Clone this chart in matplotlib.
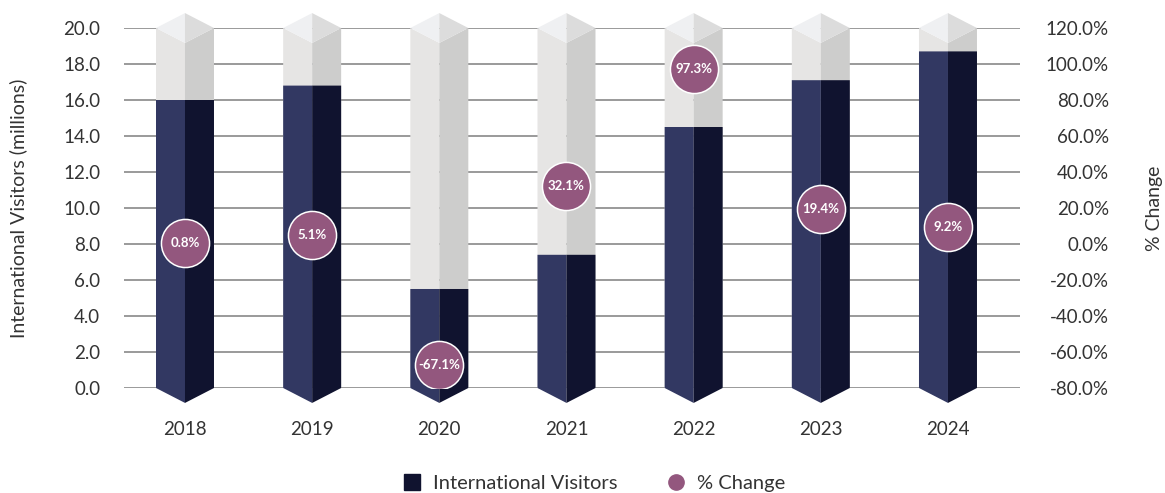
import matplotlib
matplotlib.use("Agg")
import matplotlib.pyplot as plt
from matplotlib.lines import Line2D

years = ["2018", "2019", "2020", "2021", "2022", "2023", "2024"]
visitors = [16.0, 16.8, 5.5, 7.4, 14.5, 17.1, 18.7]
pct_change = [0.8, 5.1, -67.1, 32.1, 97.3, 19.4, 9.2]
left_ticks = [0, 2, 4, 6, 8, 10, 12, 14, 16, 18, 20]
right_ticks = [-80, -60, -40, -20, 0, 20, 40, 60, 80, 100, 120]

plt.rcParams['font.family'] = ['Lato', 'DejaVu Sans']
TXT = '#333333'
NAVY_L, NAVY_R = '#323862', '#10132f'
GRAY_L, GRAY_R = '#e6e5e4', '#cdcdcc'
TOP_L, TOP_R = '#eff0f2', '#dcdcdc'
PURPLE = '#93577e'

fig = plt.figure(figsize=(11.65, 4.93), dpi=100)
ax = fig.add_axes([0.1064, 0.2130, 0.7691, 0.7302])
ax.set_xlim(-0.48, 6.566)
ax.set_ylim(0, 20)
ymax = 20
w = 0.228   # half width in x units
d = 0.83    # point depth in y units

for yv in left_ticks:
    ax.axhline(yv, color='#9a9a9a', lw=1.4, zorder=0)

for i, v in enumerate(visitors):
    x = i
    ax.fill([x - w, x, x, x - w], [ymax, ymax - d, 0, 0], color=GRAY_L, zorder=1, clip_on=False, lw=0)
    ax.fill([x, x + w, x + w, x], [ymax - d, ymax, 0, 0], color=GRAY_R, zorder=1, clip_on=False, lw=0)
    ax.fill([x - w, x, x], [ymax, ymax + d, ymax - d], color=TOP_L, zorder=1, clip_on=False, lw=0)
    ax.fill([x, x + w, x], [ymax + d, ymax, ymax - d], color=TOP_R, zorder=1, clip_on=False, lw=0)
    ax.fill([x - w, x, x, x - w], [v, v, -d, 0], color=NAVY_L, zorder=2, clip_on=False, lw=0)
    ax.fill([x, x + w, x + w, x], [v, v, 0, -d], color=NAVY_R, zorder=2, clip_on=False, lw=0)

ax.set_yticks(left_ticks)
ax.set_yticklabels([f"{t:.1f}" for t in left_ticks], color=TXT, fontsize=13.5)
ax.set_xticks(range(len(years)))
ax.set_xticklabels(years, color=TXT, fontsize=13.5)
ax.tick_params(axis='y', length=0, pad=17)
ax.tick_params(axis='x', length=0, pad=24)
ax.set_ylabel("International Visitors (millions)", color=TXT, fontsize=14, labelpad=26)
for s in ax.spines.values():
    s.set_visible(False)

ax2 = ax.twinx()
ax2.set_ylim(-80, 120)
ax2.set_yticks(right_ticks)
ax2.set_yticklabels([f"{t:.1f}%" for t in right_ticks], color=TXT, fontsize=13.5, ha='right')
ax2.tick_params(axis='y', length=0, pad=64)
ax2.set_ylabel("% Change", color=TXT, fontsize=14, labelpad=27)
for s in ax2.spines.values():
    s.set_visible(False)

ax2.scatter(range(len(years)), pct_change, s=1200, color=PURPLE, edgecolor='white', linewidth=1.1, zorder=5)
for i, p in enumerate(pct_change):
    ax2.text(i, p, f"{p:.1f}%", ha='center', va='center', color='white', fontsize=9.5, fontweight='bold', zorder=6)

handles = [
    Line2D([], [], marker='s', linestyle='none', color=NAVY_R, markersize=11),
    Line2D([], [], marker='o', linestyle='none', color=PURPLE, markersize=11),
]
fig.legend(handles, ["International Visitors", "% Change"], loc='lower center',
           bbox_to_anchor=(0.505, -0.035), ncol=2, frameon=False, fontsize=14.5,
           handletextpad=0.05, columnspacing=1.9, labelcolor=TXT)

fig.savefig("out.png", dpi=100)
